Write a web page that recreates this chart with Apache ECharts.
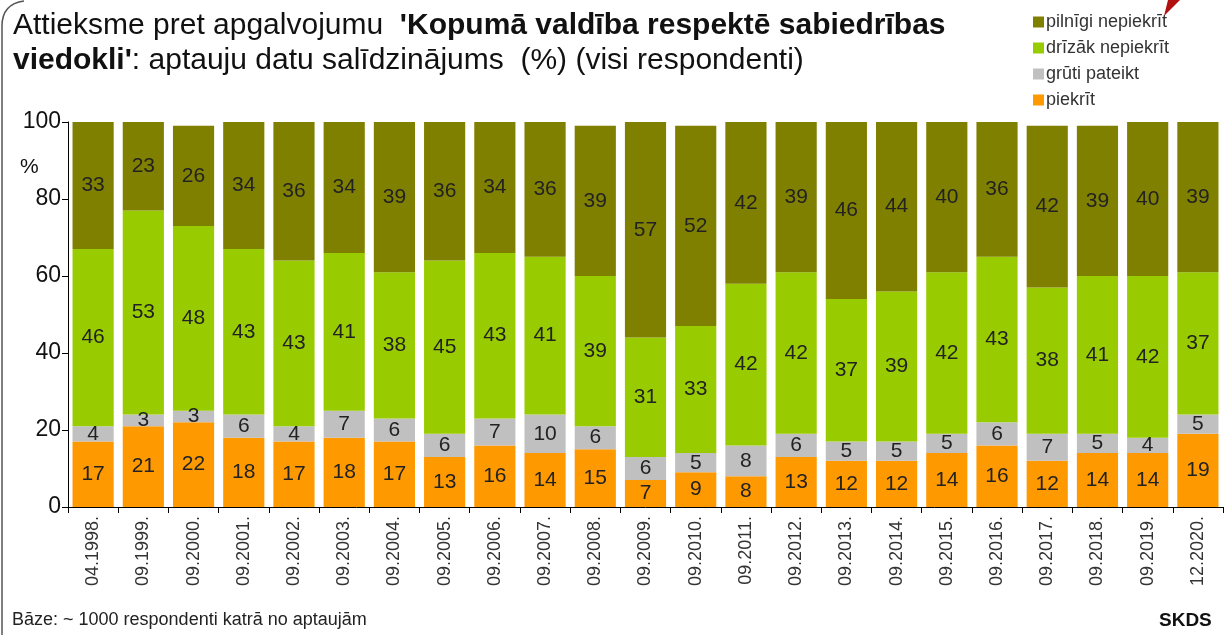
<!DOCTYPE html>
<html>
<head>
<meta charset="utf-8">
<script src="https://cdn.jsdelivr.net/npm/echarts@6/dist/echarts.min.js"></script>
<style>
html,body{margin:0;padding:0;background:#fff;}
#chart{width:1226px;height:635px;}
</style>
</head>
<body>
<div id="chart"></div>
<script>
const categories = ['04.1998.','09.1999.','09.2000.','09.2001.','09.2002.','09.2003.','09.2004.','09.2005.','09.2006.','09.2007.','09.2008.','09.2009.','09.2010.','09.2011.','09.2012.','09.2013.','09.2014.','09.2015.','09.2016.','09.2017.','09.2018.','09.2019.','12.2020.'];
const piekrit          = [17,21,22,18,17,18,17,13,16,14,15, 7, 9, 8,13,12,12,14,16,12,14,14,19];
const grutiPateikt     = [ 4, 3, 3, 6, 4, 7, 6, 6, 7,10, 6, 6, 5, 8, 6, 5, 5, 5, 6, 7, 5, 4, 5];
const drizakNepiekrit  = [46,53,48,43,43,41,38,45,43,41,39,31,33,42,42,37,39,42,43,38,41,42,37];
const pilnigiNepiekrit = [33,23,26,34,36,34,39,36,34,36,39,57,52,42,39,46,44,40,36,42,39,40,39];
const yTicks = [0,20,40,60,80,100];

const FONT = '"Liberation Sans", Arial, sans-serif';
const chart = echarts.init(document.getElementById('chart'));

function mk(name, data, color) {
  return {
    name: name, type: 'bar', stack: 'total', data: data,
    barCategoryGap: '18%',
    itemStyle: { color: color },
    label: { show: true, position: 'inside', color: '#222', fontSize: 21, fontFamily: FONT },
    emphasis: { disabled: true }
  };
}

chart.setOption({
  animation: false,
  textStyle: { fontFamily: FONT },
  title: {
    left: 8, top: 3,
    text: "{n|Attieksme pret apgalvojumu  }{b|'Kopumā valdība respektē sabiedrības}\n{b|viedokli'}{n|: aptauju datu salīdzinājums  (%) (visi respondenti)}",
    textStyle: {
      fontWeight: 'normal',
      rich: {
        n: { fontSize: 30, fontFamily: FONT, fontWeight: 'normal', color: '#111', lineHeight: 35 },
        b: { fontSize: 30, fontFamily: FONT, fontWeight: 'bold', color: '#111', lineHeight: 35 }
      }
    }
  },
  legend: {
    orient: 'vertical', left: 1028, top: 8,
    itemWidth: 11, itemHeight: 11, itemGap: 8, icon: 'rect',
    data: ['pilnīgi nepiekrīt','drīzāk nepiekrīt','grūti pateikt','piekrīt'],
    textStyle: { fontSize: 18, color: '#333', fontFamily: FONT, padding: [0,0,0,-3] }
  },
  grid: { left: 68, right: 3, top: 122, bottom: 128 },
  xAxis: {
    type: 'category', data: categories,
    axisLine: { lineStyle: { color: '#000', width: 1 } },
    axisTick: { show: true, length: 6, alignWithLabel: false, lineStyle: { color: '#000' } },
    axisLabel: { rotate: 90, fontSize: 18, color: '#333', margin: 9, fontFamily: FONT }
  },
  yAxis: {
    type: 'value', min: 0, max: 100, interval: 20,
    axisLine: { show: true, lineStyle: { color: '#000' } },
    axisTick: { show: true, length: 6, lineStyle: { color: '#000' } },
    splitLine: { show: false },
    axisLabel: { fontSize: 23, color: '#111', margin: 7, fontFamily: FONT,
      formatter: function (v) { return yTicks.indexOf(v) >= 0 ? String(v) : ''; } }
  },
  graphic: [
    { type: 'text', left: 20, top: 157, style: { text: '%', fontSize: 21, fill: '#111', fontFamily: FONT } },
    { type: 'text', left: 12, top: 611, style: { text: 'Bāze: ~ 1000 respondenti katrā no aptaujām', fontSize: 18, fill: '#222', fontFamily: FONT } },
    { type: 'text', left: 1159, top: 611, style: { text: 'SKDS', fontSize: 19, fontWeight: 'bold', fill: '#111', fontFamily: FONT } },
    { type: 'line', shape: { x1: 2, y1: 635, x2: 2, y2: 26 }, style: { stroke: '#555', lineWidth: 1.5 } },
    { type: 'bezierCurve', shape: { x1: 2, y1: 26, cpx1: 2, cpy1: 4, x2: 24, y2: 1 }, style: { fill: 'none', stroke: '#555', lineWidth: 1.5 } },
    { type: 'polygon', shape: { points: [[1164,16],[1168,0],[1180,0]] }, style: { fill: '#b01010' } }
  ],
  series: [
    mk('piekrīt', piekrit, '#ff9900'),
    mk('grūti pateikt', grutiPateikt, '#c0c0c0'),
    mk('drīzāk nepiekrīt', drizakNepiekrit, '#99cc00'),
    mk('pilnīgi nepiekrīt', pilnigiNepiekrit, '#808000')
  ]
});
</script>
</body>
</html>
